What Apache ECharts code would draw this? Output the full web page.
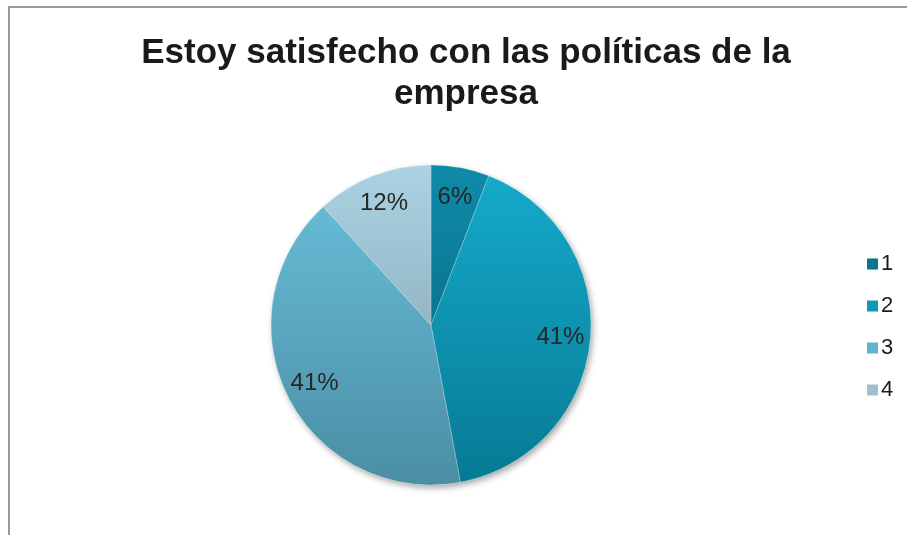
<!DOCTYPE html>
<html>
<head>
<meta charset="utf-8">
<script src="https://cdn.jsdelivr.net/npm/echarts@6/dist/echarts.min.js"></script>
<style>
  html, body { margin: 0; padding: 0; background: #ffffff; }
  #chart { width: 907px; height: 535px; }
</style>
</head>
<body>
<div id="chart"></div>
<script>
// Respuestas (número de personas) por nivel de acuerdo
var categories = ['1', '2', '3', '4'];
var counts = [1, 7, 7, 2];

// Colores de cada porción: tono superior e inferior del degradado
var topColors = ['#0f8ba8', '#16abcc', '#6ac1db', '#abd3e3'];
var bottomColors = ['#02607a', '#067a94', '#4a8ea5', '#7d98a6'];
var legendColors = ['#0b7690', '#0f9ab9', '#5fb3cf', '#9cc0cf'];

var FONT = "'Liberation Sans', Arial, Helvetica, sans-serif";
var cx = 431, cy = 325, R = 160;

function grad(i) {
  return {
    type: 'linear', global: true,
    x: 0, y: cy - R, x2: 0, y2: cy + R,
    colorStops: [
      { offset: 0, color: topColors[i] },
      { offset: 1, color: bottomColors[i] }
    ]
  };
}

var pieData = categories.map(function (c, i) {
  return { name: c, value: counts[i], itemStyle: { color: grad(i) } };
});
var shadowData = categories.map(function (c, i) {
  return { name: c, value: counts[i] };
});
var labelData = categories.map(function (c, i) {
  return { name: c, value: counts[i] };
});

var chart = echarts.init(document.getElementById('chart'), null, { renderer: 'canvas' });
chart.setOption({
  animation: false,
  backgroundColor: '#ffffff',
  graphic: [{
    type: 'polyline',
    shape: { points: [[9, 540], [9, 7], [910, 7]] },
    style: { stroke: '#9a9a9a', lineWidth: 2, fill: null },
    silent: true
  }],
  title: {
    text: 'Estoy satisfecho con las políticas de la\nempresa',
    left: 461,
    top: 28,
    textAlign: 'center',
    textStyle: {
      fontFamily: FONT,
      fontWeight: 'bold',
      fontSize: 35,
      lineHeight: 41,
      color: '#1a1a1a'
    }
  },
  legend: {
    orient: 'vertical',
    left: 862,
    top: 248,
    itemWidth: 11,
    itemHeight: 11,
    itemGap: 20,
    icon: 'rect',
    textStyle: {
      fontFamily: FONT,
      fontSize: 22,
      color: '#1a1a1a',
      padding: [0, 0, 0, -2]
    },
    data: categories.map(function (c, i) {
      return { name: c, itemStyle: { color: legendColors[i] } };
    })
  },
  series: [
    {
      // sombra suave bajo el círculo
      type: 'pie',
      center: [cx, cy],
      radius: [0, R],
      startAngle: 90,
      clockwise: true,
      silent: true,
      legendHoverLink: false,
      label: { show: false },
      labelLine: { show: false },
      itemStyle: {
        color: '#ffffff',
        shadowColor: 'rgba(0,0,0,0.35)',
        shadowBlur: 6,
        shadowOffsetX: 2,
        shadowOffsetY: 3
      },
      data: shadowData
    },
    {
      type: 'pie',
      center: [cx, cy],
      radius: [0, R],
      startAngle: 90,
      clockwise: true,
      label: { show: false },
      labelLine: { show: false },
      itemStyle: { borderColor: 'rgba(255,255,255,0.35)', borderWidth: 0.6 },
      data: pieData
    },
    {
      // capa transparente que sitúa los porcentajes
      type: 'pie',
      center: [cx, cy],
      radius: [94, R],
      startAngle: 90,
      clockwise: true,
      silent: true,
      legendHoverLink: false,
      itemStyle: { color: 'rgba(0,0,0,0)' },
      label: {
        show: true,
        position: 'inside',
        formatter: function (p) { return Math.round(p.percent) + '%'; },
        fontFamily: FONT,
        fontSize: 24,
        color: '#262626'
      },
      labelLine: { show: false },
      data: labelData
    }
  ]
});
</script>
</body>
</html>
